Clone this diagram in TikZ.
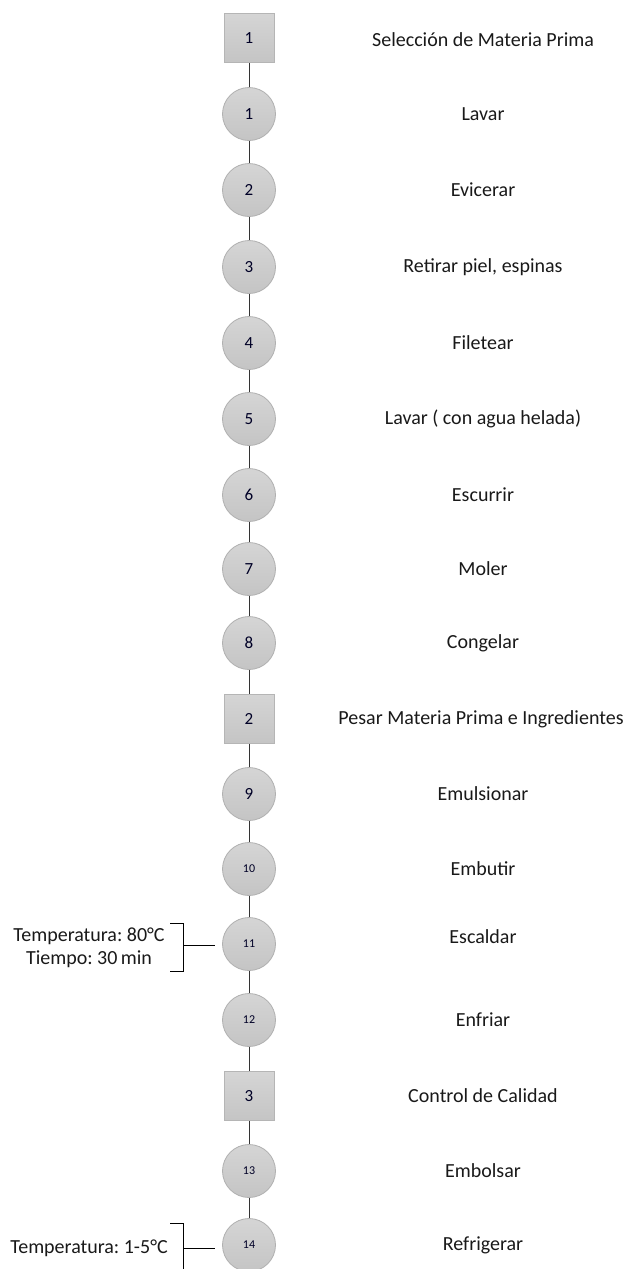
\documentclass[tikz,border=0pt]{standalone}
\usepackage{fontspec}
\setmainfont{Carlito}
\begin{document}
\frenchspacing
\begin{tikzpicture}[x=1pt,y=-1pt,
  proc/.style={circle,minimum size=53pt,inner sep=0pt,top color=gray!33,bottom color=gray!46,draw=gray!62,line width=0.8pt,font=\fontsize{17}{18}\selectfont,text=black!85!blue},
  procs/.style={proc,font=\fontsize{12}{13}\selectfont},
  insp/.style={rectangle,minimum width=50pt,minimum height=49pt,inner sep=0pt,top color=gray!33,bottom color=gray!46,draw=gray!58,line width=0.8pt,font=\fontsize{17}{18}\selectfont,text=black!85!blue},
  lbl/.style={font=\fontsize{20}{23}\selectfont,text=black!90,anchor=center},
  conn/.style={draw=black!80,line width=0.8pt},
  brk/.style={draw=black,line width=1pt}]
\useasboundingbox (0,0) rectangle (627,1269);
% nodes
\node[insp] (s1) at (249,38) {1};
\node[proc] (c1) at (249,114) {1};
\node[proc] (c2) at (249,190) {2};
\node[proc] (c3) at (249,267) {3};
\node[proc] (c4) at (249,343) {4};
\node[proc] (c5) at (249,419) {5};
\node[proc] (c6) at (249,495) {6};
\node[proc] (c7) at (249,569) {7};
\node[proc] (c8) at (249,643) {8};
\node[insp] (s2) at (249,719) {2};
\node[proc] (c9) at (249,794) {9};
\node[procs] (c10) at (249,869) {10};
\node[procs] (c11) at (249,944) {11};
\node[procs] (c12) at (249,1020) {12};
\node[insp] (s3) at (249,1096) {3};
\node[procs] (c13) at (249,1171) {13};
\node[procs] (c14) at (249,1245) {14};
% connectors
\foreach \a/\b in {s1/c1,c1/c2,c2/c3,c3/c4,c4/c5,c5/c6,c6/c7,c7/c8,c8/s2,s2/c9,c9/c10,c10/c11,c11/c12,c12/s3,s3/c13,c13/c14}
  \draw[conn] (\a) -- (\b);
% labels
\node[lbl] (t0) at (483,40) {Selección de Materia Prima};
\node[lbl] (t1) at (483,114) {Lavar};
\node[lbl] (t2) at (483,190) {Evicerar};
\node[lbl] (t3) at (483,267) {Retirar piel, espinas};
\node[lbl] (t4) at (483,343) {Filetear};
\node[lbl] (t5) at (483,419) {Lavar ( con agua helada)};
\node[lbl] (t6) at (483,495) {Escurrir};
\node[lbl] (t7) at (483,569) {Moler};
\node[lbl] (t8) at (483,643) {Congelar};
\node[lbl] (t9) at (481,719) {Pesar Materia Prima e Ingredientes};
\node[lbl] (t10) at (483,794) {Emulsionar};
\node[lbl] (t11) at (483,869) {Embutir};
\node[lbl] (t12) at (483,937) {Escaldar};
\node[lbl] (t13) at (483,1020) {Enfriar};
\node[lbl] (t14) at (483,1096) {Control de Calidad};
\node[lbl] (t15) at (483,1171) {Embolsar};
\node[lbl] (t16) at (483,1245) {Refrigerar};
% brackets and annotations
\coordinate (b1t) at (183,923);
\coordinate (b1b) at (183,971);
\coordinate (b1m) at (183,945);
\draw[brk] (170,923) -- (b1t) -- (b1b) -- (170,971);
\draw[brk] (b1m) -- (215,945);
\node[lbl,align=center] (a1) at (89,948) {Temperatura: 80°C\\Tiempo: 30\,min};
\coordinate (b2t) at (183,1223);
\coordinate (b2m) at (183,1248);
\draw[brk] (170,1223) -- (b2t) -- (183,1272);
\draw[brk] (b2m) -- (215,1248);
\node[lbl] (a2) at (89,1248) {Temperatura: 1-5°C};
\end{tikzpicture}
\end{document}
